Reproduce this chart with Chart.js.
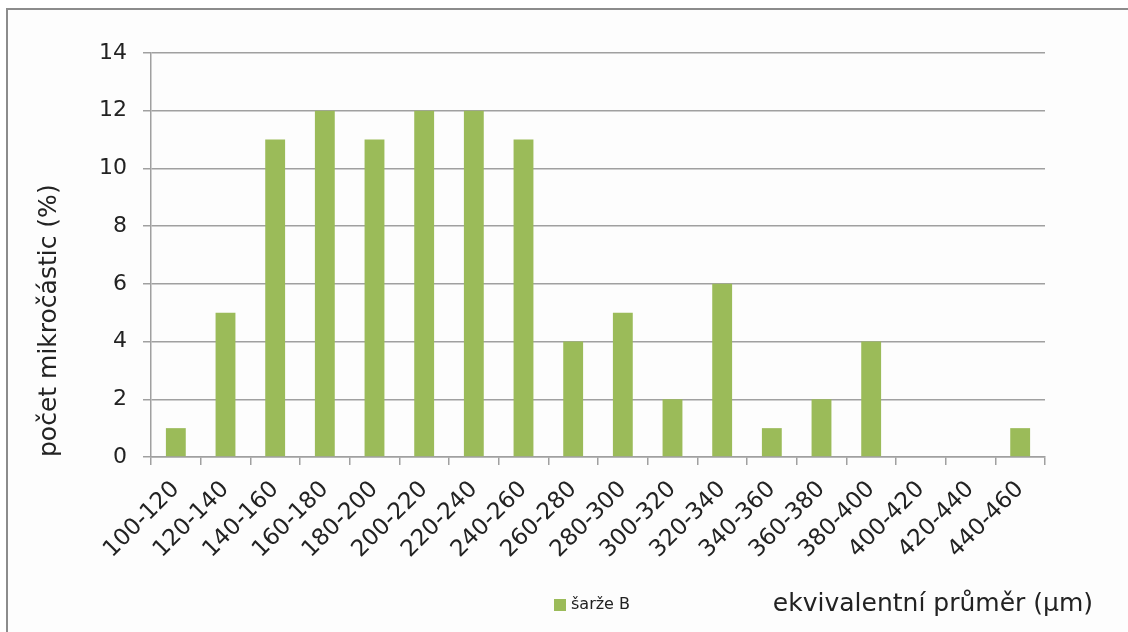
<!DOCTYPE html>
<html lang="cs">
<head>
    <meta charset="UTF-8">
    <title>Počet mikročástic</title>
    <script src="https://cdn.jsdelivr.net/npm/chart.js"></script>
    <style>
        html, body { margin: 0; padding: 0; background: #ffffff; }
        #wrap { width: 1128px; height: 632px; }
    </style>
</head>
<body>
    <div id="wrap"><canvas id="sizeChart" width="1128" height="632"></canvas></div>

    <script>
        // size classes (µm) and share of microparticles in each (%)
        const sizeClasses = ['100-120', '120-140', '140-160', '160-180', '180-200', '200-220',
            '220-240', '240-260', '260-280', '280-300', '300-320', '320-340', '340-360',
            '360-380', '380-400', '400-420', '420-440', '440-460'];
        const batchB = [1, 5, 11, 12, 11, 12, 12, 11, 4, 5, 2, 6, 1, 2, 4, 0, 0, 1];
        const yTicks = [0, 2, 4, 6, 8, 10, 12, 14];

        const seriesName = 'šarže B';
        const xTitle = 'ekvivalentní průměr (µm)';
        const yTitle = 'počet mikročástic (%)';

        const FONT = '"DejaVu Sans", sans-serif';
        const GREEN = '#9bbb59';
        const GRID = '#a0a0a0';
        const INK = '#222222';

        // frame, legend entry and the axis caption on the bottom line
        const decor = {
            id: 'decor',
            beforeDraw(chart) {
                const ctx = chart.ctx;
                ctx.save();
                ctx.fillStyle = '#fdfdfd';
                ctx.fillRect(8, 10, chart.width - 8, chart.height - 10);
                ctx.strokeStyle = '#8c8c8c';
                ctx.lineWidth = 2;
                ctx.beginPath();
                ctx.moveTo(7, chart.height);
                ctx.lineTo(7, 9);
                ctx.lineTo(chart.width, 9);
                ctx.stroke();
                ctx.restore();
            },
            afterDraw(chart) {
                const ctx = chart.ctx;
                const ds = chart.data.datasets[0];
                ctx.save();
                ctx.fillStyle = ds.backgroundColor;
                ctx.fillRect(554, 599, 12, 12);
                ctx.fillStyle = INK;
                ctx.textBaseline = 'middle';
                ctx.textAlign = 'left';
                ctx.font = '16px ' + FONT;
                ctx.fillText(ds.label, 571, 605);
                ctx.font = '25px ' + FONT;
                ctx.textAlign = 'right';
                ctx.fillText(xTitle, 1093, 604);
                ctx.restore();
            }
        };

        new Chart(document.getElementById('sizeChart'), {
            type: 'bar',
            data: {
                labels: sizeClasses,
                datasets: [{
                    label: seriesName,
                    data: batchB,
                    backgroundColor: GREEN,
                    barPercentage: 0.8,
                    categoryPercentage: 0.5
                }]
            },
            options: {
                responsive: false,
                animation: false,
                devicePixelRatio: 1,
                layout: { padding: { left: 10, right: 83, top: 53, bottom: 0 } },
                plugins: {
                    legend: { display: false },
                    tooltip: { enabled: false }
                },
                scales: {
                    x: {
                        afterFit(scale) { scale.height = 175; },
                        grid: {
                            offset: true,
                            drawOnChartArea: false,
                            drawTicks: true,
                            tickLength: 8,
                            color: GRID,
                            lineWidth: 1.5
                        },
                        border: { color: GRID, width: 1.5 },
                        ticks: {
                            minRotation: 45,
                            maxRotation: 45,
                            autoSkip: false,
                            padding: 11,
                            color: INK,
                            font: { family: FONT, size: 23 }
                        }
                    },
                    y: {
                        min: 0,
                        max: 14,
                        afterFit(scale) { scale.width = 141; },
                        afterBuildTicks(scale) { scale.ticks = yTicks.map(v => ({ value: v })); },
                        grid: {
                            color: GRID,
                            lineWidth: 1.5,
                            tickLength: 8
                        },
                        border: { color: GRID, width: 1.5 },
                        ticks: {
                            padding: 16,
                            color: INK,
                            font: { family: FONT, size: 22 }
                        },
                        title: {
                            display: true,
                            text: yTitle,
                            align: 'start',
                            color: INK,
                            font: { family: FONT, size: 25 },
                            padding: { top: 24, bottom: 0 }
                        }
                    }
                }
            },
            plugins: [decor]
        });
    </script>
</body>
</html>
